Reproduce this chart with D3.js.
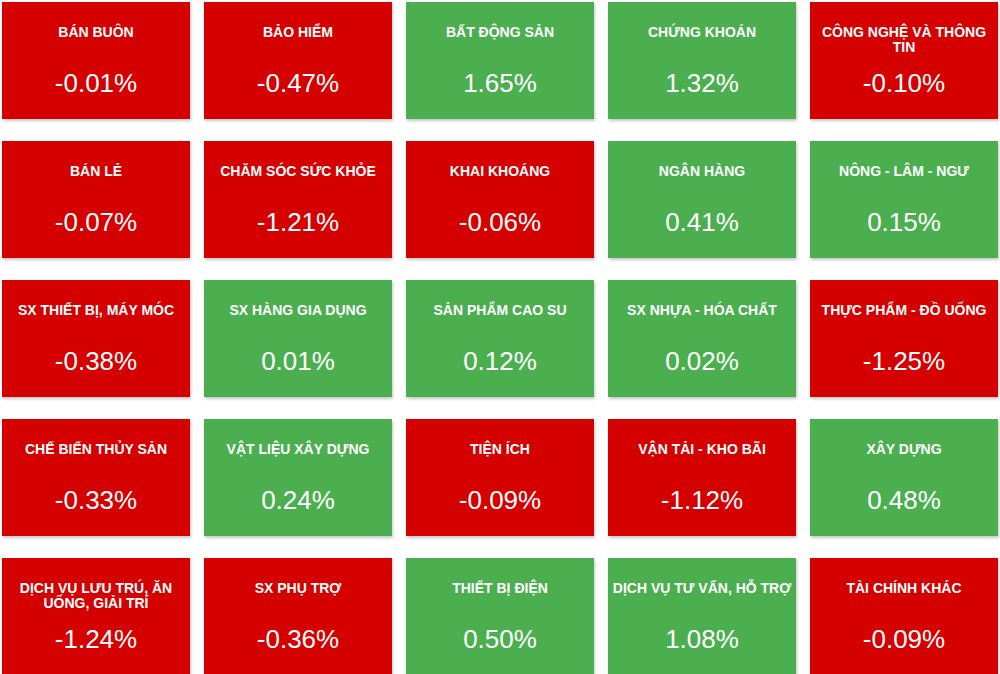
<!DOCTYPE html>
<html>
<head>
<meta charset="utf-8">
<script src="https://cdn.jsdelivr.net/npm/d3@7/dist/d3.min.js"></script>
<style>
html,body{margin:0;padding:0;background:#fff;overflow:hidden;}
svg{display:block;}
</style>
</head>
<body>
<svg id="chart" width="1000" height="674"></svg>
<script>
const sectors = [
  "BÁN BUÔN","BẢO HIỂM","BẤT ĐỘNG SẢN","CHỨNG KHOÁN","CÔNG NGHỆ VÀ THÔNG TIN",
  "BÁN LẺ","CHĂM SÓC SỨC KHỎE","KHAI KHOÁNG","NGÂN HÀNG","NÔNG - LÂM - NGƯ",
  "SX THIẾT BỊ, MÁY MÓC","SX HÀNG GIA DỤNG","SẢN PHẨM CAO SU","SX NHỰA - HÓA CHẤT","THỰC PHẨM - ĐỒ UỐNG",
  "CHẾ BIẾN THỦY SẢN","VẬT LIỆU XÂY DỰNG","TIỆN ÍCH","VẬN TẢI - KHO BÃI","XÂY DỰNG",
  "DỊCH VỤ LƯU TRÚ, ĂN UỐNG, GIẢI TRÍ","SX PHỤ TRỢ","THIẾT BỊ ĐIỆN","DỊCH VỤ TƯ VẤN, HỖ TRỢ","TÀI CHÍNH KHÁC"
];
const changes = [
  -0.01,-0.47,1.65,1.32,-0.10,
  -0.07,-1.21,-0.06,0.41,0.15,
  -0.38,0.01,0.12,0.02,-1.25,
  -0.33,0.24,-0.09,-1.12,0.48,
  -1.24,-0.36,0.50,1.08,-0.09
];
const columns = [0,1,2,3,4];
const rows = [0,1,2,3,4];

const data = sectors.map((s,i)=>({name:s, value:changes[i], col:i%5, row:Math.floor(i/5)}));

const svg = d3.select("#chart");
const defs = svg.append("defs");
const f = defs.append("filter").attr("id","sh").attr("x","-5%").attr("y","-5%").attr("width","115%").attr("height","120%");
f.append("feDropShadow").attr("dx",1).attr("dy",2).attr("stdDeviation",1.5).attr("flood-color","#000").attr("flood-opacity",0.22);

const x = d3.scaleBand().domain(columns).range([2,998]).paddingInner(14/202).paddingOuter(0);
const y = d3.scaleBand().domain(rows).range([2,675]).paddingInner(22/139).paddingOuter(0);
const color = d3.scaleThreshold().domain([0]).range(["#d50000","#4caf50"]);
const fmt = v => (v < 0 ? "-" : "") + Math.abs(v).toFixed(2) + "%";

const cell = svg.selectAll("g.cell").data(data).join("g")
  .attr("class","cell")
  .attr("transform", d=>`translate(${x(d.col)},${y(d.row)})`);

cell.append("rect")
  .attr("width", x.bandwidth())
  .attr("height", y.bandwidth())
  .attr("fill", d=>color(d.value))
  .attr("filter","url(#sh)");

const font = "'Liberation Sans', Arial, Helvetica, sans-serif";
const maxW = 184;

cell.each(function(d){
  const g = d3.select(this);
  const t = g.append("text")
    .attr("x", x.bandwidth()/2)
    .attr("y", 35)
    .attr("text-anchor","middle")
    .attr("fill","#fff")
    .style("font-family", font)
    .style("font-weight","bold")
    .style("font-size","14px");
  const words = d.name.split(" ");
  let line = [];
  let ts = t.append("tspan").attr("x", x.bandwidth()/2).attr("dy",0);
  words.forEach(w=>{
    line.push(w);
    ts.text(line.join(" "));
    if (ts.node().getComputedTextLength() > maxW && line.length>1){
      line.pop();
      ts.text(line.join(" "));
      line = [w];
      ts = t.append("tspan").attr("x", x.bandwidth()/2).attr("dy",15).text(w);
    }
  });
  g.append("text")
    .attr("x", x.bandwidth()/2)
    .attr("y", 90)
    .attr("text-anchor","middle")
    .attr("fill","#fff")
    .style("font-family", font)
    .style("font-size","26px")
    .text(fmt(d.value));
});
</script>
</body>
</html>
